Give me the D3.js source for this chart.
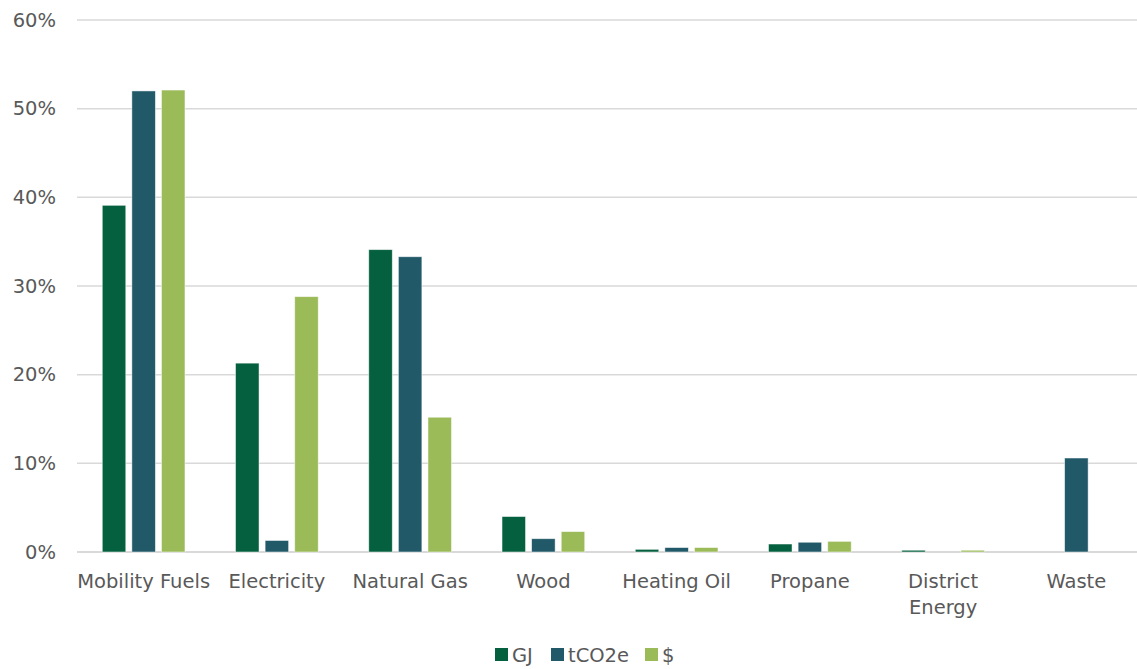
<!DOCTYPE html>
<html>
<head>
<meta charset="utf-8">
<script src="https://cdn.jsdelivr.net/npm/d3@7/dist/d3.min.js"></script>
<style>
  html, body { margin: 0; padding: 0; background: #fff; overflow: hidden; }
  svg text { font-family: "DejaVu Sans", Verdana, sans-serif; fill: #595959; }
</style>
</head>
<body>
<svg id="chart" width="1137" height="669"></svg>
<script>
// Share of total by energy source, per measure
const categories = ["Mobility Fuels", "Electricity", "Natural Gas", "Wood", "Heating Oil", "Propane", "District Energy", "Waste"];
const seriesNames = ["GJ", "tCO2e", "$"];
const gj     = [39.1, 21.3, 34.1, 4.0, 0.3, 0.9, 0.2, 0.0];
const tco2e  = [52.0, 1.3, 33.3, 1.5, 0.5, 1.1, 0.0, 10.6];
const dollar = [52.1, 28.8, 15.2, 2.3, 0.5, 1.2, 0.2, 0.0];
const yTicks = [0, 10, 20, 30, 40, 50, 60];
const colors = ["#05603F", "#215968", "#9BBB59"];

const seriesValues = [gj, tco2e, dollar];
const W = 1137, H = 669;
const plotLeft = 77, plotRight = 1143, plotTop = 20, plotBottom = 552;
const svg = d3.select("#chart");

const x = d3.scaleBand().domain(categories).range([plotLeft, plotRight]).paddingInner(0).paddingOuter(0);
const y = d3.scaleLinear().domain([0, 60]).range([plotBottom, plotTop]);

const barW = 23.5, barStep = 29.6;
const xs = d3.scaleBand().domain(seriesNames).range([0, barStep * 3]);

// Gridlines
svg.append("g").selectAll("line").data(yTicks).join("line")
  .attr("x1", plotLeft).attr("x2", plotRight)
  .attr("y1", d => y(d)).attr("y2", d => y(d))
  .attr("stroke", "#d9d9d9").attr("stroke-width", d => d === 0 ? 2 : 1.5);

// Y tick labels
svg.append("g").selectAll("text").data(yTicks).join("text")
  .attr("x", 56).attr("y", d => y(d)).attr("dy", "0.35em")
  .attr("text-anchor", "end").attr("font-size", 19.5)
  .text(d => d + "%");

// Bars
seriesNames.forEach((s, si) => {
  svg.append("g").selectAll("rect").data(categories).join("rect")
    .attr("x", c => x(c) + x.bandwidth() / 2 - (barStep * 3) / 2 + xs(s) + (barStep - barW) / 2)
    .attr("width", barW)
    .attr("y", (c, i) => y(seriesValues[si][i]))
    .attr("height", (c, i) => y(0) - y(seriesValues[si][i]))
    .attr("fill", colors[si])
    .attr("stroke", "rgba(255,255,255,0.6)").attr("stroke-width", 0.8);
});

// Category labels
const catLabels = svg.append("g").selectAll("text").data(categories).join("text")
  .attr("x", c => x(c) + x.bandwidth() / 2)
  .attr("y", 588)
  .attr("text-anchor", "middle").attr("font-size", 19.5);
catLabels.each(function (c) {
  const t = d3.select(this);
  const parts = c === "District Energy" ? ["District", "Energy"] : [c];
  parts.forEach((p, i) => {
    t.append("tspan").attr("x", x(c) + x.bandwidth() / 2).attr("dy", i === 0 ? 0 : 26).text(p);
  });
});

// Legend
const legendItems = [
  { name: "GJ", color: colors[0], x: 495 },
  { name: "tCO2e", color: colors[1], x: 551 },
  { name: "$", color: colors[2], x: 645 }
];
const lg = svg.append("g");
legendItems.forEach(it => {
  lg.append("rect").attr("x", it.x).attr("y", 648).attr("width", 13).attr("height", 13).attr("fill", it.color);
  lg.append("text").attr("x", it.x + 17).attr("y", 655).attr("dy", "0.35em").attr("font-size", 19.5).text(it.name);
});
</script>
</body>
</html>
